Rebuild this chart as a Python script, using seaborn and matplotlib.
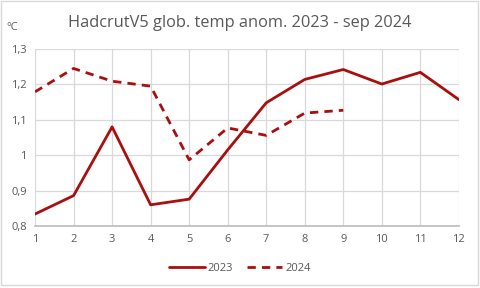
import matplotlib
matplotlib.use("Agg")
import matplotlib.pyplot as plt
import seaborn as sns
import pandas as pd
from matplotlib.patches import Rectangle
from matplotlib.lines import Line2D

months_2023 = [1, 2, 3, 4, 5, 6, 7, 8, 9, 10, 11, 12]
values_2023 = [0.834, 0.886, 1.080, 0.860, 0.876, 1.015, 1.148, 1.214, 1.242, 1.201, 1.234, 1.157]
months_2024 = [1, 2, 3, 4, 5, 6, 7, 8, 9]
values_2024 = [1.179, 1.245, 1.209, 1.195, 0.987, 1.077, 1.056, 1.119, 1.127]
y_ticks = [0.8, 0.9, 1.0, 1.1, 1.2, 1.3]
y_labels = ["0,8", "0,9", "1", "1,1", "1,2", "1,3"]

df = pd.concat([
    pd.DataFrame({"month": months_2023, "value": values_2023, "year": "2023"}),
    pd.DataFrame({"month": months_2024, "value": values_2024, "year": "2024"}),
])

sns.set_theme(style="white")
plt.rcParams["font.family"] = ["Open Sans", "DejaVu Sans"]

fig = plt.figure(figsize=(4.8, 2.88), dpi=100)
ax = fig.add_axes([0.073, 0.215, 0.883, 0.615])

red = "#A80F0F"
sns.lineplot(data=df, x="month", y="value", hue="year", style="year",
             palette={"2023": red, "2024": red},
             dashes={"2023": "", "2024": (3, 2.2)},
             linewidth=2, ax=ax, legend=False)

ax.set_xlim(1, 12)
ax.set_ylim(0.8, 1.3)
ax.set_xticks(range(1, 13))
ax.set_yticks(y_ticks)
ax.set_yticklabels(y_labels)
ax.grid(True, color="#D9D9D9", linewidth=0.9)
ax.set_axisbelow(True)
for s in ["top", "right", "left"]:
    ax.spines[s].set_visible(False)
ax.spines["bottom"].set_color("#BFBFBF")
ax.tick_params(axis="both", labelsize=8, colors="#595959", length=0, pad=6)
ax.set_xlabel("")
ax.set_ylabel("")

fig.text(0.5, 0.92, "HadcrutV5 glob. temp anom. 2023 - sep 2024", ha="center", va="center",
         fontsize=11.8, color="#595959")
fig.text(0.014, 0.905, "°C", ha="left", va="center", fontsize=8, color="#595959")

handles = [Line2D([], [], color=red, lw=2), Line2D([], [], color=red, lw=2, dashes=(3, 2.2))]
fig.legend(handles, ["2023", "2024"], loc="center", bbox_to_anchor=(0.5, 0.068), ncol=2,
           frameon=False, fontsize=8, handlelength=3.2, handletextpad=0.3, columnspacing=1.2,
           labelcolor="#595959")

fig.patches.append(Rectangle((0.002, 0.012), 0.994, 0.984, transform=fig.transFigure,
                             fill=False, edgecolor="#D9D9D9", lw=1))

fig.savefig("out.png", dpi=100, facecolor="white")
